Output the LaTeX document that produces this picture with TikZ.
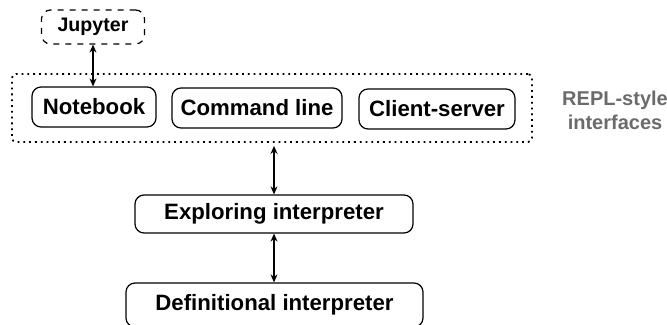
\documentclass[tikz,border=0pt]{standalone}
\usepackage{fontspec}
\setmainfont{Liberation Sans}
\usetikzlibrary{arrows.meta}
\begin{document}
\begin{tikzpicture}[x=0.5pt,y=-0.5pt,>={Stealth[length=4pt,width=3.5pt]},line join=round,
		font=\fontsize{11.1}{13}\selectfont\bfseries,
		box/.style={draw,rounded corners=4.5pt,line width=0.6pt,inner sep=0pt,minimum height=19pt},
		group/.style={draw,dotted,line width=0.9pt,rounded corners=2pt,inner sep=0pt}]
				\useasboundingbox (0,0) rectangle (667,325);
				\node[box,dashed,minimum width=51.5pt,minimum height=17pt,font=\fontsize{9.8}{12}\selectfont\bfseries] (jupyter) at (93,27) {Jupyter};
				\node[group,minimum width=260pt,minimum height=34pt] (repl) at (272,108) {};
				\node[box,minimum width=62pt,minimum height=20pt] (notebook) at (94,107) {Notebook};
				\node[box,minimum width=85pt,minimum height=20pt] (cmdline) at (257,108) {Command line};
				\node[box,minimum width=78pt,minimum height=20pt] (client) at (437,109) {Client-server};
				\node[font=\fontsize{10}{12}\selectfont\bfseries,text=black!58,align=center] (repllabel) at (615,110) {REPL-style\\interfaces};
				\node[box,minimum width=139pt] (explore) at (274,214) {Exploring interpreter};
				\node[box,minimum width=148.5pt,minimum height=22pt] (defin) at (274.5,305) {Definitional interpreter};
				\draw[<->,line width=0.6pt] (jupyter.south) -- (jupyter.south |- notebook.north);
				\draw[<->,line width=0.6pt] (repl.south -| explore.north) ++(0,3) -- (explore.north);
				\draw[<->,line width=0.6pt] (explore.south) -- (explore.south |- defin.north);
			\end{tikzpicture}
\end{document}
